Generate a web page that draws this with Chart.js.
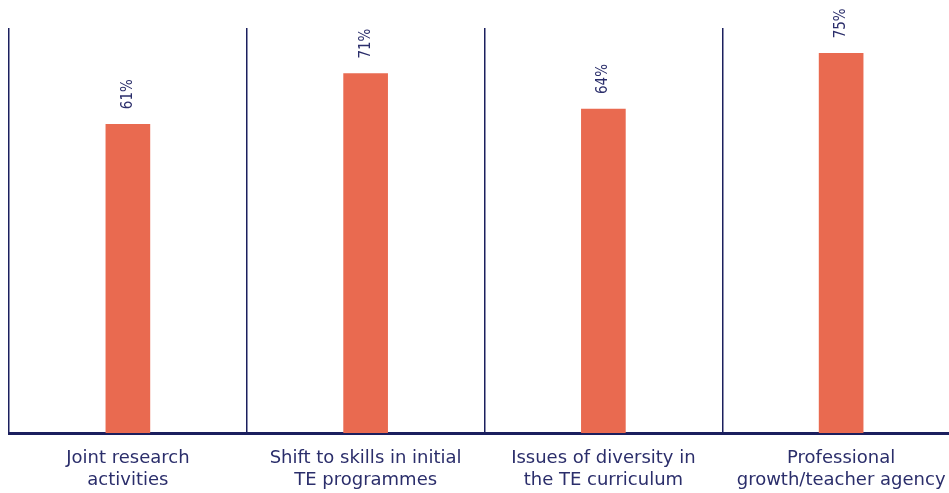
<!DOCTYPE html>
<html>
<head>
<meta charset="utf-8">
<script src="https://cdn.jsdelivr.net/npm/chart.js@4"></script>
<style>
  html, body { margin: 0; padding: 0; background: #fff; overflow: hidden; }
  #wrap { width: 960px; height: 505px; }
</style>
</head>
<body>
<div id="wrap"><canvas id="barChart"></canvas></div>
<script>
// Chart data
const categories = [
  ["Joint research", "activities"],
  ["Shift to skills in initial", "TE programmes"],
  ["Issues of diversity in", "the TE curriculum"],
  ["Professional", "growth/teacher agency"]
];
const shares = [61, 71, 64, 75];

const navy = "#1b1f5e";
const textNavy = "#2b2e6b";
const barColor = "#e96a50";

// Rotated % labels above each bar
const valueLabels = {
  id: "valueLabels",
  afterDatasetsDraw(chart) {
    const ctx = chart.ctx;
    const meta = chart.getDatasetMeta(0);
    ctx.save();
    ctx.fillStyle = textNavy;
    ctx.font = "15px 'DejaVu Sans Condensed', 'DejaVu Sans', sans-serif";
    ctx.textAlign = "left";
    ctx.textBaseline = "middle";
    meta.data.forEach((bar, i) => {
      ctx.save();
      ctx.translate(bar.x, bar.y - 15);
      ctx.rotate(-Math.PI / 2);
      ctx.fillText(shares[i] + "%", 0, 0);
      ctx.restore();
    });
    ctx.restore();
  }
};

new Chart(document.getElementById("barChart"), {
  type: "bar",
  data: {
    labels: categories,
    datasets: [{
      data: shares,
      backgroundColor: barColor,
      barThickness: 44
    }]
  },
  options: {
    responsive: true,
    maintainAspectRatio: false,
    animation: false,
    layout: { padding: { left: 9, top: 28, right: 0, bottom: 0 } },
    plugins: {
      legend: { display: false },
      tooltip: { enabled: false }
    },
    scales: {
      x: {
        grid: {
          offset: true,
          color: navy,
          lineWidth: 1.5,
          drawTicks: false
        },
        border: { color: navy, width: 3 },
        ticks: {
          color: textNavy,
          font: { family: "'DejaVu Sans', sans-serif", size: 18, lineHeight: 1.22 },
          padding: 14,
          maxRotation: 0,
          autoSkip: false
        }
      },
      y: {
        display: false,
        min: 0,
        max: 80
      }
    }
  },
  plugins: [valueLabels]
});
</script>
</body>
</html>
